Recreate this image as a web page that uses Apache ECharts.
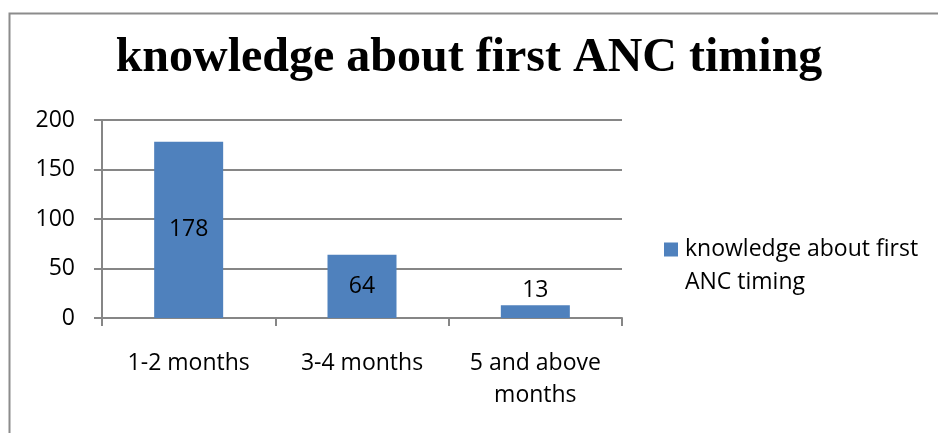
<!DOCTYPE html>
<html>
<head>
<meta charset="utf-8">
<script src="https://cdn.jsdelivr.net/npm/echarts@6/dist/echarts.min.js"></script>
<style>html,body{margin:0;padding:0;background:#fff}#c{width:938px;height:433px}</style>
</head>
<body>
<div id="c"></div>
<script>
const titleText = 'knowledge about first ANC timing';
const seriesName = 'knowledge about first\nANC timing';
const categories = ['1-2 months', '3-4 months', '5 and above\nmonths'];
const values = [178, 64, 13];
const labelPositions = ['inside', 'inside', 'top'];
const yTicks = { min: 0, max: 200, interval: 50 };

const font = '"Open Sans", "Liberation Sans", sans-serif';
const chart = echarts.init(document.getElementById('c'), null, { renderer: 'canvas' });
chart.setOption({
  animation: false,
  backgroundColor: '#fff',
  graphic: [{
    type: 'rect', left: 7, top: 11, silent: true,
    shape: { width: 960, height: 460 },
    style: { fill: 'none', stroke: '#8c8c8c', lineWidth: 2 }
  }],
  title: {
    text: titleText, left: 'center', top: 30,
    textStyle: { fontFamily: '"Liberation Serif", "Times New Roman", serif', fontWeight: 'bold', fontSize: 48, color: '#000' }
  },
  legend: {
    left: 659, top: 228, orient: 'vertical',
    icon: 'path://M0,0L14,0L14,14L0,14Z M0,47L0.01,47L0.01,47.01Z',
    itemWidth: 14, itemHeight: 47, itemGap: 8,
    textStyle: { fontFamily: font, fontSize: 23, color: '#000', lineHeight: 33, padding: [0, 0, 0, 2] },
    data: [seriesName]
  },
  grid: { left: 102, right: 316, top: 120, bottom: 115, containLabel: false },
  xAxis: {
    type: 'category', data: categories,
    axisLine: { lineStyle: { color: '#868686', width: 2 } },
    axisTick: { show: true, length: 8, lineStyle: { color: '#868686', width: 2 } },
    axisLabel: { fontFamily: font, fontSize: 23, color: '#000', margin: 29, lineHeight: 32 }
  },
  yAxis: {
    type: 'value', min: yTicks.min, max: yTicks.max, interval: yTicks.interval,
    axisLine: { show: true, lineStyle: { color: '#868686', width: 2 } },
    axisTick: { show: true, length: 8, lineStyle: { color: '#868686', width: 2 } },
    splitLine: { lineStyle: { color: '#868686', width: 2 } },
    axisLabel: { fontFamily: font, fontSize: 23, color: '#000', margin: 27 }
  },
  series: [{
    name: seriesName, type: 'bar', barWidth: 69,
    itemStyle: { color: '#4F81BD' },
    data: values.map((v, i) => ({
      value: v,
      label: { show: true, position: labelPositions[i], distance: 3, fontFamily: font, fontSize: 23, color: '#000' }
    }))
  }]
});
</script>
</body>
</html>
